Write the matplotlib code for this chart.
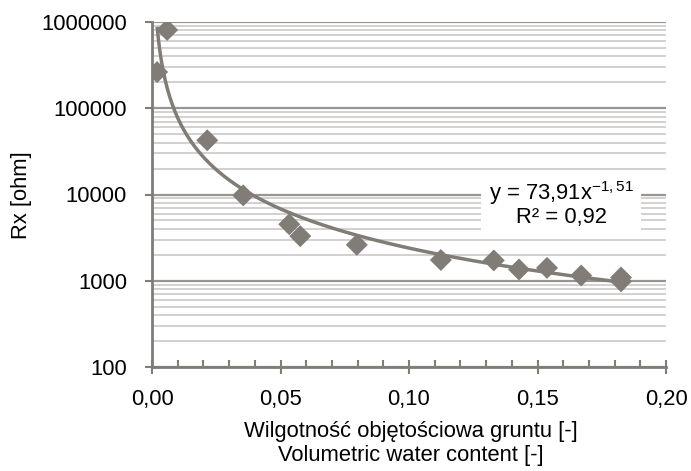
import numpy as np
import matplotlib
matplotlib.use("Agg")
import matplotlib.pyplot as plt
from matplotlib.ticker import FixedLocator, NullFormatter, LogLocator
from matplotlib.patches import Rectangle

plt.rcParams['font.family'] = ['Liberation Sans', 'DejaVu Sans']
plt.rcParams['mathtext.fontset'] = 'custom'
plt.rcParams['mathtext.rm'] = 'Liberation Sans'
plt.rcParams['mathtext.it'] = 'Liberation Sans'

# data
water_content = [0.0020, 0.0059, 0.0215, 0.0355, 0.0534, 0.0577, 0.0797,
                 0.1124, 0.1330, 0.1428, 0.1537, 0.1670, 0.1825, 0.1825]
rx_ohm = [263000, 808000, 42500, 9770, 4520, 3290, 2610,
          1740, 1720, 1350, 1410, 1150, 1090, 985]
fit_a = 73.91
fit_b = -1.51
x_ticks = [0.00, 0.05, 0.10, 0.15, 0.20]
x_ticklabels = ['0,00', '0,05', '0,10', '0,15', '0,20']
y_ticks = [100, 1000, 10000, 100000, 1000000]
y_ticklabels = ['100', '1000', '10000', '100000', '1000000']

GRAY = '#807c78'
FS = 15.8

fig = plt.figure(figsize=(6.91, 4.71), dpi=100)
ax = fig.add_axes([152/691, 1-367/471, 514/691, 345/471])

ax.set_yscale('log')
ax.set_xlim(0, 0.20)
ax.set_ylim(100, 1000000)

# gridlines
ax.yaxis.set_major_locator(FixedLocator(y_ticks))
ax.yaxis.set_minor_locator(LogLocator(base=10, subs=np.arange(2, 10)))
ax.yaxis.set_minor_formatter(NullFormatter())
ax.grid(True, which='major', axis='y', color='#979491', lw=1.6, zorder=0)
ax.grid(True, which='minor', axis='y', color='#d0cecc', lw=1.3, zorder=0)
ax.set_axisbelow(True)

# trendline
xs = np.linspace(min(water_content), max(water_content), 400)
ax.plot(xs, fit_a * xs ** fit_b, color=GRAY, lw=2.5, zorder=3, solid_capstyle='butt')

# points
ax.scatter(water_content, rx_ohm, marker='D', s=125, color=GRAY, edgecolors='none', zorder=4)

# axes styling
for side in ['top', 'right']:
    ax.spines[side].set_visible(False)
for side in ['left', 'bottom']:
    ax.spines[side].set_color(GRAY)
    ax.spines[side].set_linewidth(2)

ax.set_xticks(x_ticks)
ax.set_xticklabels(x_ticklabels, fontsize=FS)
ax.set_xticks(np.arange(0.01, 0.20, 0.01), minor=True)
ax.set_yticklabels(y_ticklabels, fontsize=FS)
ax.tick_params(axis='x', which='major', direction='inout', length=10, width=1.5,
               color=GRAY, pad=11)
ax.tick_params(axis='x', which='minor', direction='in', length=5, width=1.5, color=GRAY)
ax.tick_params(axis='y', which='major', direction='out', length=5, width=1.5,
               color=GRAY, pad=13)
ax.tick_params(axis='y', which='minor', length=0)

fig.text(22/691, 1-195/471, 'Rx [ohm]', rotation=90, ha='center', va='center', fontsize=FS)
fig.text(411/691, 1-432/471, 'Wilgotność objętościowa gruntu [-]', ha='center', va='center', fontsize=FS)
fig.text(411/691, 1-456/471, 'Volumetric water content [-]', ha='center', va='center', fontsize=FS)

# equation box
ax.add_patch(Rectangle((0.640, 0.383), 0.311, 0.165, transform=ax.transAxes,
                       facecolor='white', edgecolor='none', zorder=2))
ax.text(0.796, 0.504, r'y = 73,91x$^{\mathrm{-1,51}}$', transform=ax.transAxes,
        ha='center', va='center', fontsize=FS, zorder=5)
ax.text(0.796, 0.432, 'R² = 0,92', transform=ax.transAxes,
        ha='center', va='center', fontsize=FS, zorder=5)

fig.savefig('out.png', dpi=100)
